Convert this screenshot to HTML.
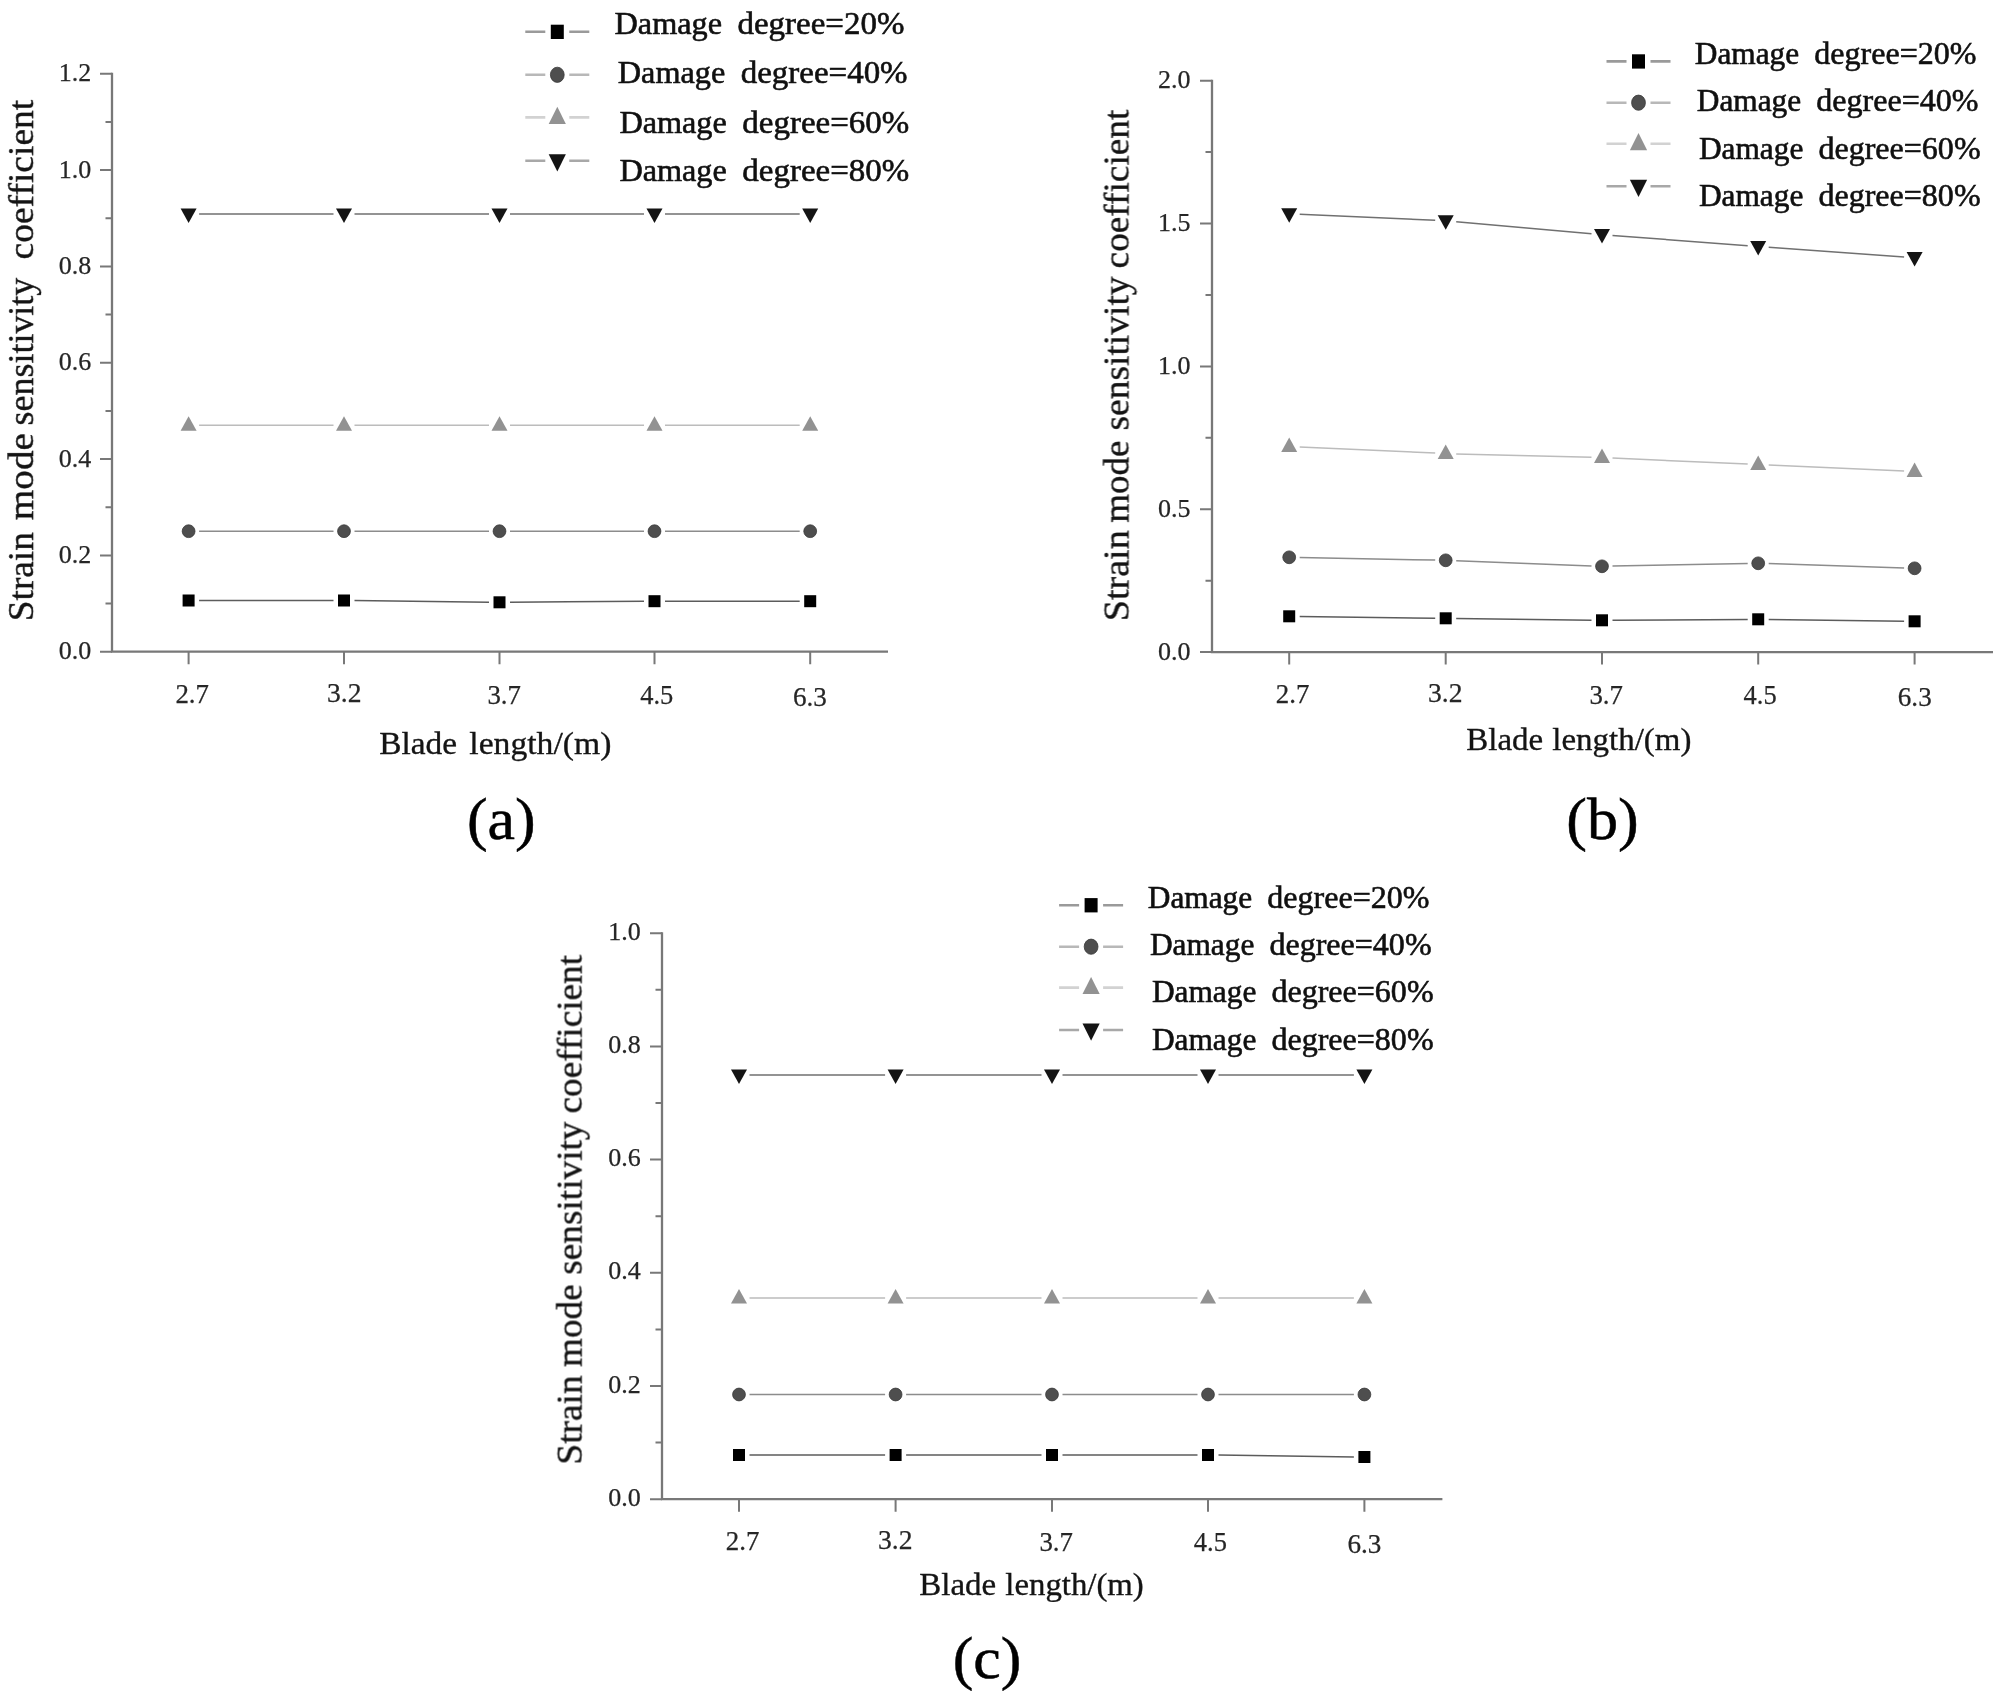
<!DOCTYPE html>
<html><head><meta charset="utf-8"><title>Strain mode sensitivity coefficient versus blade length</title>
<style>
html,body{margin:0;padding:0;background:#fff}
svg{display:block}
text{font-family:"Liberation Serif","Times New Roman",serif;white-space:pre}
.pl{filter:blur(.55px)}
.t{font-size:27px;fill:#262626;stroke:#262626;stroke-width:.25px}
.l{font-size:32px;fill:#101010;stroke:#101010;stroke-width:.6px}
.xt{font-size:32px;fill:#141414;stroke:#141414;stroke-width:.35px}
.yt{font-size:37px;fill:#141414;stroke:#141414;stroke-width:.35px}
.cap{font-size:60px;fill:#000;stroke:#000;stroke-width:.5px}
</style></head><body>
<svg width="1999" height="1695" viewBox="0 0 1999 1695">
<rect width="1999" height="1695" fill="#fff"/>
<g class="pl">
<path d="M112 72.7V651.7H888" fill="none" stroke="#787878" stroke-width="2.3"/>
<path d="M100 73.7H112M105.5 121.9H112M100 170.0H112M105.5 218.2H112M100 266.4H112M105.5 314.5H112M100 362.7H112M105.5 410.9H112M100 459.0H112M105.5 507.2H112M100 555.4H112M105.5 603.5H112M100 651.7H112M188.6 651.7V664.2M344.0 651.7V664.2M499.5 651.7V664.2M654.5 651.7V664.2M810.2 651.7V664.2" fill="none" stroke="#787878" stroke-width="2"/>
<text x="91.3" y="81.3" text-anchor="end" class="t" style="font-size:26px">1.2</text>
<text x="91.3" y="177.6" text-anchor="end" class="t" style="font-size:26px">1.0</text>
<text x="91.3" y="274.0" text-anchor="end" class="t" style="font-size:26px">0.8</text>
<text x="91.3" y="370.3" text-anchor="end" class="t" style="font-size:26px">0.6</text>
<text x="91.3" y="466.6" text-anchor="end" class="t" style="font-size:26px">0.4</text>
<text x="91.3" y="563.0" text-anchor="end" class="t" style="font-size:26px">0.2</text>
<text x="91.3" y="659.3" text-anchor="end" class="t" style="font-size:26px">0.0</text>
<text y="703.0" class="t"><tspan x="175.4" textLength="33.6" lengthAdjust="spacingAndGlyphs">2.7</tspan></text>
<text y="702.0" class="t"><tspan x="327.0" textLength="34.5" lengthAdjust="spacingAndGlyphs">3.2</tspan></text>
<text y="704.0" class="t"><tspan x="487.4" textLength="33.6" lengthAdjust="spacingAndGlyphs">3.7</tspan></text>
<text y="703.6" class="t"><tspan x="640.2" textLength="33.1" lengthAdjust="spacingAndGlyphs">4.5</tspan></text>
<text y="705.6" class="t"><tspan x="792.9" textLength="33.9" lengthAdjust="spacingAndGlyphs">6.3</tspan></text>
<path d="M199.1 600.5L333.5 600.5M354.5 600.6L489.0 602.2M510.0 602.2L644.0 601.3M665.0 601.2L799.7 601.2" fill="none" stroke="#5c5c5c" stroke-width="1.5"/>
<rect x="182.6" y="594.5" width="12.0" height="12.0" fill="#000000"/>
<rect x="338.0" y="594.5" width="12.0" height="12.0" fill="#000000"/>
<rect x="493.5" y="596.3" width="12.0" height="12.0" fill="#000000"/>
<rect x="648.5" y="595.2" width="12.0" height="12.0" fill="#000000"/>
<rect x="804.2" y="595.2" width="12.0" height="12.0" fill="#000000"/>
<path d="M199.1 531.2L333.5 531.2M354.5 531.2L489.0 531.2M510.0 531.2L644.0 531.2M665.0 531.2L799.7 531.2" fill="none" stroke="#8c8c8c" stroke-width="1.5"/>
<ellipse cx="188.6" cy="531.2" rx="6.4" ry="6.4" fill="#4e4e4e" stroke="#383838" stroke-width="0.8"/>
<ellipse cx="344.0" cy="531.2" rx="6.4" ry="6.4" fill="#4e4e4e" stroke="#383838" stroke-width="0.8"/>
<ellipse cx="499.5" cy="531.2" rx="6.4" ry="6.4" fill="#4e4e4e" stroke="#383838" stroke-width="0.8"/>
<ellipse cx="654.5" cy="531.2" rx="6.4" ry="6.4" fill="#4e4e4e" stroke="#383838" stroke-width="0.8"/>
<ellipse cx="810.2" cy="531.2" rx="6.4" ry="6.4" fill="#4e4e4e" stroke="#383838" stroke-width="0.8"/>
<path d="M199.1 425.2L333.5 425.2M354.5 425.2L489.0 425.2M510.0 425.2L644.0 425.2M665.0 425.2L799.7 425.2" fill="none" stroke="#bcbcbc" stroke-width="1.5"/>
<path d="M180.6 430.7L196.6 430.7L188.6 416.2Z" fill="#929292"/>
<path d="M336.0 430.7L352.0 430.7L344.0 416.2Z" fill="#929292"/>
<path d="M491.5 430.7L507.5 430.7L499.5 416.2Z" fill="#929292"/>
<path d="M646.5 430.7L662.5 430.7L654.5 416.2Z" fill="#929292"/>
<path d="M802.2 430.7L818.2 430.7L810.2 416.2Z" fill="#929292"/>
<path d="M199.1 214.0L333.5 214.0M354.5 214.0L489.0 214.0M510.0 214.0L644.0 214.0M665.0 214.0L799.7 214.0" fill="none" stroke="#707070" stroke-width="1.5"/>
<path d="M180.6 208.5L196.6 208.5L188.6 223.0Z" fill="#141414"/>
<path d="M336.0 208.5L352.0 208.5L344.0 223.0Z" fill="#141414"/>
<path d="M491.5 208.5L507.5 208.5L499.5 223.0Z" fill="#141414"/>
<path d="M646.5 208.5L662.5 208.5L654.5 223.0Z" fill="#141414"/>
<path d="M802.2 208.5L818.2 208.5L810.2 223.0Z" fill="#141414"/>
<path d="M525.3 31.8H545.3M569.3 31.8H589.3" stroke="#9a9a9a" stroke-width="2.6" fill="none"/>
<rect x="550.8" y="24.7" width="13.0" height="14.3" fill="#000000"/>
<text y="34.4" class="l"><tspan x="614.6" textLength="107.4" lengthAdjust="spacingAndGlyphs">Damage</tspan> <tspan x="737.5" textLength="166.9" lengthAdjust="spacingAndGlyphs">degree=20%</tspan></text>
<path d="M525.3 74.8H545.3M569.3 74.8H589.3" stroke="#b8b8b8" stroke-width="2.6" fill="none"/>
<ellipse cx="557.3" cy="74.8" rx="6.9" ry="7.6" fill="#4e4e4e" stroke="#383838" stroke-width="0.8"/>
<text y="83.2" class="l"><tspan x="617.8" textLength="107.4" lengthAdjust="spacingAndGlyphs">Damage</tspan> <tspan x="740.7" textLength="166.9" lengthAdjust="spacingAndGlyphs">degree=40%</tspan></text>
<path d="M525.3 117.4H545.3M569.3 117.4H589.3" stroke="#d2d2d2" stroke-width="2.6" fill="none"/>
<path d="M548.7 123.9L565.9 123.9L557.3 106.7Z" fill="#929292"/>
<text y="132.6" class="l"><tspan x="619.4" textLength="107.4" lengthAdjust="spacingAndGlyphs">Damage</tspan> <tspan x="742.3" textLength="166.9" lengthAdjust="spacingAndGlyphs">degree=60%</tspan></text>
<path d="M525.3 160.7H545.3M569.3 160.7H589.3" stroke="#a8a8a8" stroke-width="2.6" fill="none"/>
<path d="M548.7 154.2L565.9 154.2L557.3 171.4Z" fill="#141414"/>
<text y="181.4" class="l"><tspan x="619.4" textLength="107.4" lengthAdjust="spacingAndGlyphs">Damage</tspan> <tspan x="742.3" textLength="166.9" lengthAdjust="spacingAndGlyphs">degree=80%</tspan></text>
<text y="754" class="xt"><tspan x="379.3" textLength="77.8" lengthAdjust="spacingAndGlyphs">Blade</tspan> <tspan x="469.3" textLength="142.1" lengthAdjust="spacingAndGlyphs">length/(m)</tspan></text>
<text transform="translate(33.1 619) rotate(-90)" y="0" class="yt" style="font-size:36px"><tspan x="-2.2" textLength="89.0" lengthAdjust="spacingAndGlyphs">Strain</tspan> <tspan x="98.8" textLength="87.1" lengthAdjust="spacingAndGlyphs">mode</tspan> <tspan x="193.6" textLength="147.7" lengthAdjust="spacingAndGlyphs">sensitivity</tspan> <tspan x="359.6" textLength="159.6" lengthAdjust="spacingAndGlyphs">coefficient</tspan></text>
</g>
<text y="839.4" class="cap"><tspan x="466.9" textLength="68.7" lengthAdjust="spacingAndGlyphs">(a)</tspan></text>
<g class="pl">
<path d="M1212 79.7V652.1H1993" fill="none" stroke="#787878" stroke-width="2.3"/>
<path d="M1200 80.7H1212M1205.5 152.1H1212M1200 223.6H1212M1205.5 295.0H1212M1200 366.4H1212M1205.5 437.8H1212M1200 509.2H1212M1205.5 580.7H1212M1200 652.1H1212M1289.2 652.1V664.6M1445.7 652.1V664.6M1602.0 652.1V664.6M1758.2 652.1V664.6M1914.6 652.1V664.6" fill="none" stroke="#787878" stroke-width="2"/>
<text x="1190.6" y="88.3" text-anchor="end" class="t" style="font-size:26px">2.0</text>
<text x="1190.6" y="231.2" text-anchor="end" class="t" style="font-size:26px">1.5</text>
<text x="1190.6" y="374.0" text-anchor="end" class="t" style="font-size:26px">1.0</text>
<text x="1190.6" y="516.8" text-anchor="end" class="t" style="font-size:26px">0.5</text>
<text x="1190.6" y="659.7" text-anchor="end" class="t" style="font-size:26px">0.0</text>
<text y="703.0" class="t"><tspan x="1275.8" textLength="33.6" lengthAdjust="spacingAndGlyphs">2.7</tspan></text>
<text y="702.0" class="t"><tspan x="1428.0" textLength="34.5" lengthAdjust="spacingAndGlyphs">3.2</tspan></text>
<text y="704.0" class="t"><tspan x="1589.4" textLength="33.6" lengthAdjust="spacingAndGlyphs">3.7</tspan></text>
<text y="703.6" class="t"><tspan x="1743.6" textLength="33.1" lengthAdjust="spacingAndGlyphs">4.5</tspan></text>
<text y="705.6" class="t"><tspan x="1897.8" textLength="33.9" lengthAdjust="spacingAndGlyphs">6.3</tspan></text>
<path d="M1299.7 616.4L1435.2 618.2M1456.2 618.4L1591.5 620.2M1612.5 620.2L1747.7 619.4M1768.7 619.4L1904.1 621.2" fill="none" stroke="#5c5c5c" stroke-width="1.5"/>
<rect x="1283.2" y="610.3" width="12.0" height="12.0" fill="#000000"/>
<rect x="1439.7" y="612.3" width="12.0" height="12.0" fill="#000000"/>
<rect x="1596.0" y="614.3" width="12.0" height="12.0" fill="#000000"/>
<rect x="1752.2" y="613.3" width="12.0" height="12.0" fill="#000000"/>
<rect x="1908.6" y="615.3" width="12.0" height="12.0" fill="#000000"/>
<path d="M1299.7 557.5L1435.2 560.1M1456.2 560.7L1591.5 565.9M1612.5 566.1L1747.7 563.5M1768.7 563.6L1904.1 568.0" fill="none" stroke="#8c8c8c" stroke-width="1.5"/>
<ellipse cx="1289.2" cy="557.3" rx="6.4" ry="6.4" fill="#4e4e4e" stroke="#383838" stroke-width="0.8"/>
<ellipse cx="1445.7" cy="560.3" rx="6.4" ry="6.4" fill="#4e4e4e" stroke="#383838" stroke-width="0.8"/>
<ellipse cx="1602.0" cy="566.3" rx="6.4" ry="6.4" fill="#4e4e4e" stroke="#383838" stroke-width="0.8"/>
<ellipse cx="1758.2" cy="563.3" rx="6.4" ry="6.4" fill="#4e4e4e" stroke="#383838" stroke-width="0.8"/>
<ellipse cx="1914.6" cy="568.3" rx="6.4" ry="6.4" fill="#4e4e4e" stroke="#383838" stroke-width="0.8"/>
<path d="M1299.7 447.1L1435.2 453.1M1456.2 453.9L1591.5 457.3M1612.5 458.1L1747.7 464.1M1768.7 465.1L1904.1 471.1" fill="none" stroke="#bcbcbc" stroke-width="1.5"/>
<path d="M1281.2 452.1L1297.2 452.1L1289.2 437.6Z" fill="#929292"/>
<path d="M1437.7 459.1L1453.7 459.1L1445.7 444.6Z" fill="#929292"/>
<path d="M1594.0 463.1L1610.0 463.1L1602.0 448.6Z" fill="#929292"/>
<path d="M1750.2 470.1L1766.2 470.1L1758.2 455.6Z" fill="#929292"/>
<path d="M1906.6 477.1L1922.6 477.1L1914.6 462.6Z" fill="#929292"/>
<path d="M1299.7 214.3L1435.2 220.3M1456.2 221.7L1591.5 233.7M1612.5 235.4L1747.7 245.8M1768.7 247.3L1904.1 256.9" fill="none" stroke="#707070" stroke-width="1.5"/>
<path d="M1281.2 208.3L1297.2 208.3L1289.2 222.8Z" fill="#141414"/>
<path d="M1437.7 215.3L1453.7 215.3L1445.7 229.8Z" fill="#141414"/>
<path d="M1594.0 229.1L1610.0 229.1L1602.0 243.6Z" fill="#141414"/>
<path d="M1750.2 241.1L1766.2 241.1L1758.2 255.6Z" fill="#141414"/>
<path d="M1906.6 252.1L1922.6 252.1L1914.6 266.6Z" fill="#141414"/>
<path d="M1606.5 61.4H1626.5M1650.5 61.4H1670.5" stroke="#9a9a9a" stroke-width="2.6" fill="none"/>
<rect x="1632.0" y="54.3" width="13.0" height="14.3" fill="#000000"/>
<text y="63.9" class="l"><tspan x="1694.8" textLength="104.4" lengthAdjust="spacingAndGlyphs">Damage</tspan> <tspan x="1814.3" textLength="162.2" lengthAdjust="spacingAndGlyphs">degree=20%</tspan></text>
<path d="M1606.5 102.7H1626.5M1650.5 102.7H1670.5" stroke="#b8b8b8" stroke-width="2.6" fill="none"/>
<ellipse cx="1638.5" cy="102.7" rx="6.9" ry="7.6" fill="#4e4e4e" stroke="#383838" stroke-width="0.8"/>
<text y="110.9" class="l"><tspan x="1696.8" textLength="104.4" lengthAdjust="spacingAndGlyphs">Damage</tspan> <tspan x="1816.3" textLength="162.2" lengthAdjust="spacingAndGlyphs">degree=40%</tspan></text>
<path d="M1606.5 143.7H1626.5M1650.5 143.7H1670.5" stroke="#d2d2d2" stroke-width="2.6" fill="none"/>
<path d="M1629.9 150.2L1647.1 150.2L1638.5 133.0Z" fill="#929292"/>
<text y="159" class="l"><tspan x="1698.9" textLength="104.4" lengthAdjust="spacingAndGlyphs">Damage</tspan> <tspan x="1818.4" textLength="162.2" lengthAdjust="spacingAndGlyphs">degree=60%</tspan></text>
<path d="M1606.5 186.2H1626.5M1650.5 186.2H1670.5" stroke="#a8a8a8" stroke-width="2.6" fill="none"/>
<path d="M1629.9 179.7L1647.1 179.7L1638.5 196.9Z" fill="#141414"/>
<text y="206.1" class="l"><tspan x="1698.9" textLength="104.4" lengthAdjust="spacingAndGlyphs">Damage</tspan> <tspan x="1818.4" textLength="162.2" lengthAdjust="spacingAndGlyphs">degree=80%</tspan></text>
<text y="750" class="xt"><tspan x="1466.3" textLength="76.8" lengthAdjust="spacingAndGlyphs">Blade</tspan> <tspan x="1552.3" textLength="139.1" lengthAdjust="spacingAndGlyphs">length/(m)</tspan></text>
<text transform="translate(1128.5 619) rotate(-90)" y="0" class="yt" style="font-size:36px"><tspan x="-2.3" textLength="91.0" lengthAdjust="spacingAndGlyphs">Strain</tspan> <tspan x="96.3" textLength="82.1" lengthAdjust="spacingAndGlyphs">mode</tspan> <tspan x="188.4" textLength="154.2" lengthAdjust="spacingAndGlyphs">sensitivity</tspan> <tspan x="350.6" textLength="158.7" lengthAdjust="spacingAndGlyphs">coefficient</tspan></text>
</g>
<text y="839.4" class="cap"><tspan x="1566.3" textLength="72.4" lengthAdjust="spacingAndGlyphs">(b)</tspan></text>
<g class="pl">
<path d="M662 932.2V1499.2H1442.4" fill="none" stroke="#787878" stroke-width="2.3"/>
<path d="M650 933.2H662M655.5 989.8H662M650 1046.4H662M655.5 1103.0H662M650 1159.6H662M655.5 1216.2H662M650 1272.8H662M655.5 1329.4H662M650 1386.0H662M655.5 1442.6H662M650 1499.2H662M739.0 1499.2V1511.7M895.6 1499.2V1511.7M1052.0 1499.2V1511.7M1208.0 1499.2V1511.7M1364.4 1499.2V1511.7" fill="none" stroke="#787878" stroke-width="2"/>
<text x="640.8" y="939.8" text-anchor="end" class="t" style="font-size:26px">1.0</text>
<text x="640.8" y="1053.0" text-anchor="end" class="t" style="font-size:26px">0.8</text>
<text x="640.8" y="1166.2" text-anchor="end" class="t" style="font-size:26px">0.6</text>
<text x="640.8" y="1279.4" text-anchor="end" class="t" style="font-size:26px">0.4</text>
<text x="640.8" y="1392.6" text-anchor="end" class="t" style="font-size:26px">0.2</text>
<text x="640.8" y="1505.8" text-anchor="end" class="t" style="font-size:26px">0.0</text>
<text y="1550.0" class="t"><tspan x="725.8" textLength="33.6" lengthAdjust="spacingAndGlyphs">2.7</tspan></text>
<text y="1549.0" class="t"><tspan x="878.0" textLength="34.5" lengthAdjust="spacingAndGlyphs">3.2</tspan></text>
<text y="1551.0" class="t"><tspan x="1039.4" textLength="33.6" lengthAdjust="spacingAndGlyphs">3.7</tspan></text>
<text y="1550.6" class="t"><tspan x="1193.8" textLength="33.1" lengthAdjust="spacingAndGlyphs">4.5</tspan></text>
<text y="1552.6" class="t"><tspan x="1347.4" textLength="33.9" lengthAdjust="spacingAndGlyphs">6.3</tspan></text>
<path d="M749.5 1455.0L885.1 1455.0M906.1 1455.0L1041.5 1455.0M1062.5 1455.0L1197.5 1455.0M1218.5 1455.1L1353.9 1456.9" fill="none" stroke="#5c5c5c" stroke-width="1.5"/>
<rect x="733.0" y="1449.0" width="12.0" height="12.0" fill="#000000"/>
<rect x="889.6" y="1449.0" width="12.0" height="12.0" fill="#000000"/>
<rect x="1046.0" y="1449.0" width="12.0" height="12.0" fill="#000000"/>
<rect x="1202.0" y="1449.0" width="12.0" height="12.0" fill="#000000"/>
<rect x="1358.4" y="1451.0" width="12.0" height="12.0" fill="#000000"/>
<path d="M749.5 1394.5L885.1 1394.5M906.1 1394.5L1041.5 1394.5M1062.5 1394.5L1197.5 1394.5M1218.5 1394.5L1353.9 1394.5" fill="none" stroke="#8c8c8c" stroke-width="1.5"/>
<ellipse cx="739.0" cy="1394.5" rx="6.4" ry="6.4" fill="#4e4e4e" stroke="#383838" stroke-width="0.8"/>
<ellipse cx="895.6" cy="1394.5" rx="6.4" ry="6.4" fill="#4e4e4e" stroke="#383838" stroke-width="0.8"/>
<ellipse cx="1052.0" cy="1394.5" rx="6.4" ry="6.4" fill="#4e4e4e" stroke="#383838" stroke-width="0.8"/>
<ellipse cx="1208.0" cy="1394.5" rx="6.4" ry="6.4" fill="#4e4e4e" stroke="#383838" stroke-width="0.8"/>
<ellipse cx="1364.4" cy="1394.5" rx="6.4" ry="6.4" fill="#4e4e4e" stroke="#383838" stroke-width="0.8"/>
<path d="M749.5 1298.0L885.1 1298.0M906.1 1298.0L1041.5 1298.0M1062.5 1298.0L1197.5 1298.0M1218.5 1298.0L1353.9 1298.0" fill="none" stroke="#bcbcbc" stroke-width="1.5"/>
<path d="M731.0 1303.5L747.0 1303.5L739.0 1289.0Z" fill="#929292"/>
<path d="M887.6 1303.5L903.6 1303.5L895.6 1289.0Z" fill="#929292"/>
<path d="M1044.0 1303.5L1060.0 1303.5L1052.0 1289.0Z" fill="#929292"/>
<path d="M1200.0 1303.5L1216.0 1303.5L1208.0 1289.0Z" fill="#929292"/>
<path d="M1356.4 1303.5L1372.4 1303.5L1364.4 1289.0Z" fill="#929292"/>
<path d="M749.5 1075.0L885.1 1075.0M906.1 1075.0L1041.5 1075.0M1062.5 1075.0L1197.5 1075.0M1218.5 1075.0L1353.9 1075.0" fill="none" stroke="#707070" stroke-width="1.5"/>
<path d="M731.0 1069.5L747.0 1069.5L739.0 1084.0Z" fill="#141414"/>
<path d="M887.6 1069.5L903.6 1069.5L895.6 1084.0Z" fill="#141414"/>
<path d="M1044.0 1069.5L1060.0 1069.5L1052.0 1084.0Z" fill="#141414"/>
<path d="M1200.0 1069.5L1216.0 1069.5L1208.0 1084.0Z" fill="#141414"/>
<path d="M1356.4 1069.5L1372.4 1069.5L1364.4 1084.0Z" fill="#141414"/>
<path d="M1059.1 905.2H1079.1M1103.1 905.2H1123.1" stroke="#9a9a9a" stroke-width="2.6" fill="none"/>
<rect x="1084.6" y="898.1" width="13.0" height="14.3" fill="#000000"/>
<text y="907.8" class="l"><tspan x="1147.8" textLength="104.4" lengthAdjust="spacingAndGlyphs">Damage</tspan> <tspan x="1267.3" textLength="162.2" lengthAdjust="spacingAndGlyphs">degree=20%</tspan></text>
<path d="M1059.1 946.7H1079.1M1103.1 946.7H1123.1" stroke="#b8b8b8" stroke-width="2.6" fill="none"/>
<ellipse cx="1091.1" cy="946.7" rx="6.9" ry="7.6" fill="#4e4e4e" stroke="#383838" stroke-width="0.8"/>
<text y="954.9" class="l"><tspan x="1149.9" textLength="104.4" lengthAdjust="spacingAndGlyphs">Damage</tspan> <tspan x="1269.4" textLength="162.2" lengthAdjust="spacingAndGlyphs">degree=40%</tspan></text>
<path d="M1059.1 987.6H1079.1M1103.1 987.6H1123.1" stroke="#d2d2d2" stroke-width="2.6" fill="none"/>
<path d="M1082.5 994.1L1099.7 994.1L1091.1 976.9Z" fill="#929292"/>
<text y="1002" class="l"><tspan x="1151.9" textLength="104.4" lengthAdjust="spacingAndGlyphs">Damage</tspan> <tspan x="1271.4" textLength="162.2" lengthAdjust="spacingAndGlyphs">degree=60%</tspan></text>
<path d="M1059.1 1030.0H1079.1M1103.1 1030.0H1123.1" stroke="#a8a8a8" stroke-width="2.6" fill="none"/>
<path d="M1082.5 1023.5L1099.7 1023.5L1091.1 1040.7Z" fill="#141414"/>
<text y="1050" class="l"><tspan x="1151.9" textLength="104.4" lengthAdjust="spacingAndGlyphs">Damage</tspan> <tspan x="1271.4" textLength="162.2" lengthAdjust="spacingAndGlyphs">degree=80%</tspan></text>
<text y="1594.6" class="xt"><tspan x="919.3" textLength="76.8" lengthAdjust="spacingAndGlyphs">Blade</tspan> <tspan x="1005.3" textLength="138.5" lengthAdjust="spacingAndGlyphs">length/(m)</tspan></text>
<text transform="translate(581.6 1462.5) rotate(-90)" y="0" class="yt" style="font-size:36px"><tspan x="-2.2" textLength="89.4" lengthAdjust="spacingAndGlyphs">Strain</tspan> <tspan x="95.6" textLength="82.6" lengthAdjust="spacingAndGlyphs">mode</tspan> <tspan x="187.8" textLength="153.2" lengthAdjust="spacingAndGlyphs">sensitivity</tspan> <tspan x="349.0" textLength="158.6" lengthAdjust="spacingAndGlyphs">coefficient</tspan></text>
</g>
<text y="1678" class="cap"><tspan x="952.7" textLength="68.7" lengthAdjust="spacingAndGlyphs">(c)</tspan></text>
</svg>
</body></html>
